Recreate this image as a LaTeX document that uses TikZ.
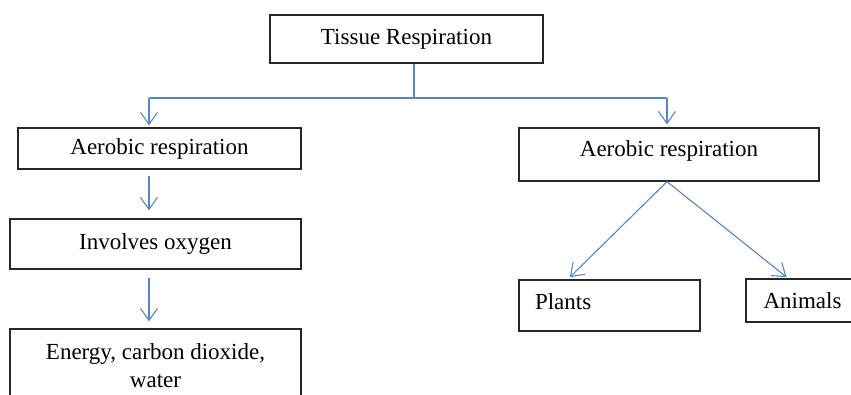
\documentclass[tikz,border=0pt]{standalone}
\usepackage{fontspec}
\setmainfont{Liberation Serif}
\usetikzlibrary{positioning}
\usetikzlibrary{arrows.meta}
\definecolor{linkblue}{RGB}{88,134,194}
\tikzset{box/.style={ % framed text box
			draw=black!85,
			line width=1.3pt,
			inner sep=0pt,
			font=\fontsize{23}{28}\selectfont},
		link/.style={ % blue connector with open head
			draw=linkblue,
			line width=1.1pt,
			-{Straight Barb[length=12pt,width=17pt]}}}

\begin{document}
\begin{tikzpicture}[x=1pt,y=-1pt]
			\clip (0,0) rectangle (851,395);
			\node[box, minimum width=273pt, minimum height=48pt] (T) at (406.5,39) {Tissue Respiration};
			\node[box, minimum width=283pt, minimum height=41pt] (L1) at (159.5,148.5) {Aerobic respiration};
			\node[box, minimum width=291pt, minimum height=50pt] (L2) at (155.5,244) {Involves oxygen};
			\node[box, minimum width=291pt, minimum height=73pt, align=center] (L3) at (155.5,365.5) {Energy, carbon dioxide,\\ water};
			\node[box, minimum width=300pt, minimum height=53pt, text depth=12pt] (R) at (669,154.5) {Aerobic respiration};
			\node[box, minimum height=51pt, text width=149pt, inner xsep=16pt, align=left, text depth=8pt] (P) at (609.5,305.5) {Plants};
			\node[box, minimum width=113pt, minimum height=43pt] (An) at (802.5,300.5) {Animals};
			
			\coordinate (S) at (414,98);
			\coordinate (SL) at (149,98);
			\coordinate (SR) at (667,98);
			
			\draw[link, -] (T.south -| S) -- (S);
			\draw[link, -] (SL) -- (SR);
			\draw[link, shorten >=2pt] (SL) -- (SL |- L1.north);
			\draw[link, shorten >=3pt] (SR) -- (SR |- R.north);
			\draw[link, shorten <=6pt, shorten >=8pt] (L1.south -| SL) -- (L2.north -| SL);
			\draw[link, shorten <=8pt, shorten >=7pt] (L2.south -| SL) -- (L3.north -| SL);
			\draw[link, shorten >=3pt] (R.south -| SR) -- (P.148);
			\draw[link, shorten >=2pt] (R.south -| SR) -- (An.123);
		\end{tikzpicture}
\end{document}
